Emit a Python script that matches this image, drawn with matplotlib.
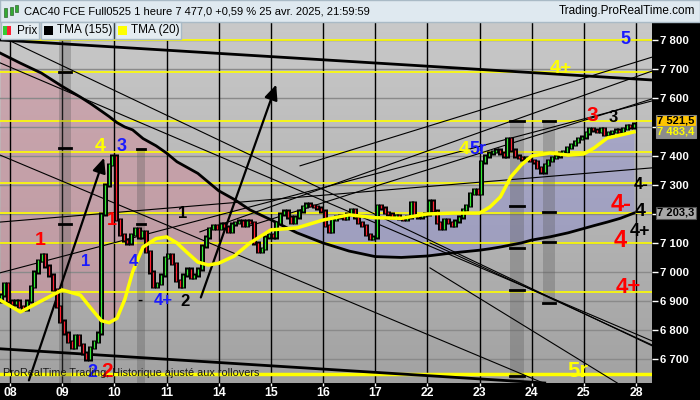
import numpy as np
import matplotlib
matplotlib.use("Agg")
import matplotlib.pyplot as plt
from matplotlib.patches import Rectangle
from matplotlib.colors import LinearSegmentedColormap
import matplotlib.transforms as mtransforms

plt.rcParams["font.family"] = ["Liberation Sans", "DejaVu Sans"]

# x axis: trading days, one unit per day, 14 hourly bars per day
day_labels = ["08", "09", "10", "11", "14", "15", "16", "17", "22", "23", "24", "25", "28"]

# hourly closes (3 last bars of Apr 7, then 14 bars a day)
close_apr07 = [6920, 6960, 6900]
close_apr08 = [6890, 6900, 6880, 6870, 6900, 6950, 7000, 7040, 7060, 7020, 6990, 6940, 6880, 6830]
close_apr09 = [6790, 6760, 6740, 6780, 6750, 6720, 6700, 6740, 6760, 6790, 7200, 7300, 7370, 7400]
close_apr10 = [7180, 7130, 7110, 7100, 7130, 7150, 7120, 7140, 7070, 7000, 6950, 6960, 6990, 7050]
close_apr11 = [7060, 7030, 6970, 6950, 6990, 7010, 6980, 6990, 7010, 7090, 7120, 7150, 7160, 7150]
close_apr14 = [7165, 7155, 7140, 7165, 7170, 7175, 7160, 7175, 7170, 7100, 7070, 7080, 7120, 7130]
close_apr15 = [7120, 7170, 7200, 7210, 7190, 7170, 7190, 7210, 7225, 7235, 7230, 7225, 7220, 7210]
close_apr16 = [7160, 7140, 7180, 7190, 7195, 7185, 7200, 7215, 7190, 7170, 7160, 7130, 7115, 7120]
close_apr17 = [7230, 7220, 7205, 7200, 7190, 7195, 7185, 7180, 7190, 7240, 7195, 7190, 7195, 7200]
close_apr22 = [7245, 7210, 7170, 7150, 7180, 7170, 7160, 7175, 7190, 7215, 7230, 7270, 7285, 7270]
close_apr23 = [7380, 7400, 7410, 7415, 7420, 7410, 7400, 7460, 7420, 7400, 7395, 7390, 7395, 7385]
close_apr24 = [7380, 7360, 7345, 7370, 7385, 7395, 7400, 7410, 7415, 7430, 7440, 7450, 7460, 7465]
close_apr25 = [7480, 7495, 7490, 7485, 7495, 7475, 7480, 7485, 7490, 7485, 7495, 7505, 7500, 7510]
first_open = 6900

# TMA curves on a shared day grid
tma_days = [-0.19, 0.2, 0.6, 1.0, 1.35, 1.55, 1.75, 1.9, 2.05, 2.2, 2.35, 2.55, 2.8, 3.0, 3.2,
            3.4, 3.6, 3.8, 4.0, 4.3, 4.6, 5.0, 5.5, 6.0, 6.5, 7.0, 7.5, 8.0, 8.5, 9.0, 9.2,
            9.4, 9.6, 9.8, 10.0, 10.35, 10.7, 11.0, 11.2, 11.45, 11.7, 11.96]
tma20 = [6903, 6862, 6900, 6938, 6920, 6875, 6832, 6825, 6840, 6905, 7000, 7086, 7115, 7121, 7100,
         7066, 7034, 7024, 7030, 7055, 7100, 7145, 7152, 7179, 7197, 7187, 7185, 7200, 7203, 7203, 7224,
         7259, 7328, 7369, 7400, 7410, 7403, 7407, 7428, 7462, 7472, 7483]
tma155 = [7755, 7720, 7686, 7640, 7603, 7580, 7555, 7536, 7515, 7500, 7490, 7460, 7435, 7410, 7380,
          7360, 7340, 7310, 7280, 7250, 7214, 7180, 7135, 7100, 7072, 7053, 7050, 7055, 7066, 7075, 7080,
          7086, 7093, 7100, 7110, 7121, 7135, 7150, 7160, 7172, 7185, 7203]

# yellow horizontal levels
levels = [7800, 7689, 7521, 7415, 7307, 7203, 7100, 6931]
level_low = 6648

# drawn lines (day0, price0, day1, price1)
thick_lines = [(-0.19, 7800, 12.31, 7662), (-0.19, 6735, 10.25, 6617)]
thin_lines = [
    (0.0, 7797, 12.31, 6745),
    (-0.19, 7721, 12.31, 6762),
    (-0.19, 7403, 10.22, 6617),
    (-0.19, 6997, 12.31, 7590),
    (-0.19, 7172, 12.31, 7359),
    (3.64, 7138, 12.31, 7693),
    (4.60, 7159, 12.31, 7597),
    (5.56, 7366, 12.31, 7741),
    (8.05, 7100, 12.31, 6748),
    (8.05, 7014, 11.64, 6617),
]
arrows = [(0.345, 6617, 1.82, 7403), (3.64, 6903, 5.12, 7655)]

# grey vertical bands: left, right, top, bottom, dash prices
bands = [
    (0.94, 1.17, 7870, 6600, [7690, 7428, 7166]),
    (2.43, 2.59, 7428, 6600, [7424, 7166]),
    (9.58, 9.85, 7521, 6600, [7521, 7228, 7083, 6938, 6641]),
    (10.22, 10.45, 7521, 6893, [7521, 7207, 7103, 6893]),
]

# wave labels: text, day, price, colour, size
wave_labels = [
    ("1", 0.575, 7110, "#ff0000", 14), ("4", 1.725, 7431, "#ffff00", 14), ("3", 2.13, 7431, "#1a1aff", 13),
    ("1", 1.955, 7176, "#ff0000", 13), ("1", 1.44, 7035, "#1a1aff", 12), ("4", 2.36, 7035, "#1a1aff", 12),
    ("1", 3.30, 7200, "#000000", 12), ("-", 2.49, 6903, "#000000", 11), ("4+", 2.93, 6900, "#1a1aff", 12),
    ("2", 3.35, 6897, "#000000", 12), ("2", 1.57, 6652, "#1a1aff", 13), ("2", 1.86, 6655, "#ff0000", 15),
    ("4", 8.70, 7421, "#ffff00", 14), ("5r", 8.97, 7421, "#1a1aff", 13), ("3", 11.16, 7541, "#ff0000", 15),
    ("3", 11.56, 7534, "#000000", 12), ("4-", 12.10, 7303, "#000000", 12), ("4-", 11.71, 7231, "#ff0000", 17),
    ("4", 12.08, 7210, "#000000", 14), ("4", 11.69, 7110, "#ff0000", 17), ("4+", 12.08, 7138, "#000000", 13),
    ("4+", 11.86, 6948, "#ff0000", 16), ("5", 11.79, 7803, "#1a1aff", 13), ("4+", 10.56, 7700, "#ffff00", 14),
    ("5r", 10.89, 6655, "#ffff00", 16),
]

last_price = 7521.5
last_tma20 = 7483.4
last_tma155 = 7203.3


def fmt_price(v, dec=False):
    s = f"{v:,.1f}" if dec else f"{v:,.0f}"
    return s.replace(",", " ").replace(".", ",")


closes = (close_apr07 + close_apr08 + close_apr09 + close_apr10 + close_apr11 + close_apr14 + close_apr15
          + close_apr16 + close_apr17 + close_apr22 + close_apr23 + close_apr24 + close_apr25)
closes = np.array(closes, dtype=float)
opens = np.concatenate([[first_open], closes[:-1]])
bar_x = (np.arange(len(closes)) - 2.5) / 14.0

fig = plt.figure(figsize=(7, 4), dpi=100)
fig.patch.set_facecolor("black")
ax = fig.add_axes([0, 17 / 400, 652 / 700, 361 / 400])
xlim = (-0.192, 12.306)
ylim = (6617, 7862)
ax.set_xlim(*xlim)
ax.set_ylim(*ylim)

# grey gradient background
grad = np.linspace(0, 1, 256).reshape(-1, 1)
bg_cmap = LinearSegmentedColormap.from_list("bg", ["#c9c9c9", "#a2a2a2"])
ax.imshow(grad, extent=[xlim[0], xlim[1], ylim[0], ylim[1]], aspect="auto", cmap=bg_cmap, zorder=0)

# fill between the two TMAs
t = np.array(tma_days)
a20 = np.array(tma20)
a155 = np.array(tma155)
ax.fill_between(t, a20, a155, where=a155 >= a20, interpolate=True, color="#d08a9a", alpha=0.5, lw=0, zorder=1)
ax.fill_between(t, a20, a155, where=a155 < a20, interpolate=True, color="#8a8ad0", alpha=0.45, lw=0, zorder=1)

# grid
for p in range(6700, 7801, 100):
    ax.axhline(p, color="#8a8a8a", lw=1, zorder=2)
for d in range(len(day_labels)):
    ax.axvline(d, color="black", lw=1, zorder=2)

for lv in levels:
    ax.axhline(lv, color="#ffff00", lw=1.2, zorder=3)
ax.axhline(level_low, color="#ffff00", lw=2.5, zorder=3)

for l, r, top, bot, dashes in bands:
    ax.add_patch(Rectangle((l, bot), r - l, top - bot, color="#555555", alpha=0.3, lw=0, zorder=3))
    for dp in dashes:
        ax.plot([l, r], [dp, dp], color="black", lw=2, zorder=4)

for x0, y0, x1, y1 in thick_lines:
    ax.plot([x0, x1], [y0, y1], color="black", lw=2, zorder=4)
for x0, y0, x1, y1 in thin_lines:
    ax.plot([x0, x1], [y0, y1], color="black", lw=0.8, zorder=4)
for x0, y0, x1, y1 in arrows:
    ax.annotate("", xy=(x1, y1), xytext=(x0, y0),
                arrowprops=dict(arrowstyle="-|>,head_length=0.9,head_width=0.4", color="black", lw=1.6), zorder=5)

ax.plot(tma_days, tma155, color="black", lw=2, zorder=5)

# candles
lo = np.minimum(opens, closes)
hi = np.maximum(opens, closes)
ax.vlines(bar_x, lo - 6, hi + 6, color="black", lw=3.6, zorder=6)
up = closes >= opens
ax.vlines(bar_x[up], lo[up] - 1, hi[up] + 1, color="#33ee33", lw=0.9, zorder=7)
ax.vlines(bar_x[~up], lo[~up] - 1, hi[~up] + 1, color="#ff2233", lw=0.9, zorder=7)

ax.plot(tma_days, tma20, color="#ffff00", lw=2.5, zorder=8)

for txt, d, p, c, s in wave_labels:
    ax.text(d, p, txt, color=c, fontsize=s, fontweight="bold", ha="center", va="center", zorder=9)

btr = mtransforms.blended_transform_factory(ax.transAxes, ax.transData)
ax.text(0.005, 6652, "ProRealTime Trading, Historique ajusté aux rollovers", fontsize=7.8, color="#1a1a1a",
        ha="left", va="center", transform=btr, zorder=9)

# axes styling
for sp in ax.spines.values():
    sp.set_visible(False)
ax.yaxis.tick_right()
ax.set_yticks(range(6700, 7801, 100))
ax.set_yticklabels([fmt_price(v) for v in range(6700, 7801, 100)])
ax.tick_params(axis="y", colors="white", length=4, width=1, pad=2, labelsize=8.2)
ax.set_xticks(range(len(day_labels)))
ax.set_xticklabels(day_labels)
ax.tick_params(axis="x", colors="white", length=2, width=1, pad=1, labelsize=8.8)
for lbl in ax.get_xticklabels() + ax.get_yticklabels():
    lbl.set_fontweight("bold")
    lbl.set_color("white")

# price boxes at right
ax.text(1.008, last_price, fmt_price(last_price, True), transform=btr, fontsize=8, fontweight="bold", color="black",
        ha="left", va="center", bbox=dict(boxstyle="square,pad=0.1", fc="#ffc400", ec="#888888", lw=0.8), zorder=10, clip_on=False)
ax.text(1.008, last_tma20, fmt_price(last_tma20, True), transform=btr, fontsize=8, fontweight="bold", color="#ffff00",
        ha="left", va="center", bbox=dict(boxstyle="square,pad=0.1", fc="#8c8c8c", ec="#888888", lw=0.8), zorder=10, clip_on=False)
ax.text(1.008, last_tma155, fmt_price(last_tma155, True), transform=btr, fontsize=8, fontweight="bold", color="black",
        ha="left", va="center", bbox=dict(boxstyle="square,pad=0.1", fc="#a8a8a8", ec="#555555", lw=0.8), zorder=10, clip_on=False)

# title bar
fig.patches.append(Rectangle((0, 378 / 400), 1, 22 / 400, transform=fig.transFigure, fc="#dfe9f0", ec="#a9bac6", lw=1, zorder=0))
fig.patches.append(Rectangle((4 / 700, 383 / 400), 3 / 700, 9 / 400, transform=fig.transFigure, fc="#33aa33", ec="#336633", lw=0.5))
fig.patches.append(Rectangle((10 / 700, 385 / 400), 3 / 700, 8 / 400, transform=fig.transFigure, fc="#33aa33", ec="#336633", lw=0.5))
fig.patches.append(Rectangle((15 / 700, 388 / 400), 3 / 700, 7 / 400, transform=fig.transFigure, fc="#33aa33", ec="#336633", lw=0.5))
fig.text(24 / 700, 389 / 400, "CAC40 FCE Full0525 1 heure 7 477,0 +0,59 % 25 avr. 2025, 21:59:59",
         fontsize=8, color="black", ha="left", va="center")
fig.text(695 / 700, 389 / 400, "Trading.ProRealTime.com", fontsize=8.5, color="black", ha="right", va="center")

# legend boxes
legend_items = [("Prix", 1, 39), ("TMA (155)", 41, 113), ("TMA (20)", 115, 181)]
for name, x0, x1 in legend_items:
    fig.patches.append(Rectangle((x0 / 700, 361 / 400), (x1 - x0) / 700, 17 / 400, transform=fig.transFigure,
                                 fc="#e4ecf1", ec="#a9bac6", lw=1, zorder=20))
    fig.text((x0 + 16) / 700, 369.5 / 400, name, fontsize=8.5, color="black", ha="left", va="center", zorder=21)
fig.patches.append(Rectangle((3 / 700, 365 / 400), 4 / 700, 9 / 400, transform=fig.transFigure, fc="#33cc33", lw=0, zorder=21))
fig.patches.append(Rectangle((7 / 700, 365 / 400), 4 / 700, 9 / 400, transform=fig.transFigure, fc="#ff2233", lw=0, zorder=21))
fig.patches.append(Rectangle((44 / 700, 365 / 400), 9 / 700, 9 / 400, transform=fig.transFigure, fc="black", lw=0, zorder=21))
fig.patches.append(Rectangle((118 / 700, 365 / 400), 9 / 700, 9 / 400, transform=fig.transFigure, fc="#ffff00", lw=0, zorder=21))

fig.savefig("out.png", dpi=100, facecolor=fig.get_facecolor())
